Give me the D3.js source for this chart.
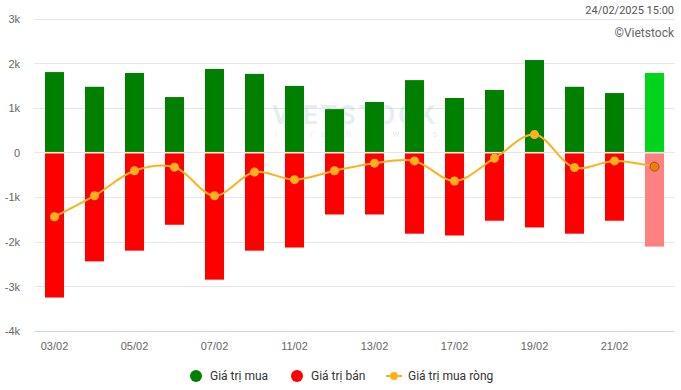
<!DOCTYPE html>
<html><head><meta charset="utf-8">
<script src="https://cdn.jsdelivr.net/npm/d3@7"></script>
<style>
html,body{margin:0;padding:0;background:#fff;}
svg{display:block;font-family:Roboto,"Noto Sans",sans-serif;}
</style></head>
<body><svg id="c" width="681" height="390"></svg>
<script>
const dates = ["03/02","04/02","05/02","06/02","07/02","10/02","11/02","12/02","13/02","14/02","17/02","18/02","19/02","20/02","21/02","24/02"];
const buyValues = [1800,1470,1780,1240,1870,1760,1490,970,1130,1620,1220,1400,2070,1470,1330,1780];
const sellValues = [-3250,-2440,-2200,-1620,-2850,-2200,-2130,-1390,-1390,-1820,-1860,-1530,-1680,-1820,-1530,-2110];
const netValues = [-1440,-970,-410,-330,-970,-440,-610,-410,-240,-190,-640,-130,400,-340,-190,-320];
const yTicks = [-4000,-3000,-2000,-1000,0,1000,2000,3000];
const xTickLabels = ["03/02","05/02","07/02","11/02","13/02","17/02","19/02","21/02"];
const legendLabels = ["Giá trị mua","Giá trị bán","Giá trị mua ròng"];
const timestamp = "24/02/2025 15:00";
const credit = "©Vietstock";

const svg = d3.select("#c");
const L = 34.5, R = 674.5, T = 18.5, B = 331;
const x = d3.scaleBand().domain(dates).range([L, R]).paddingInner(0.525).paddingOuter(0.2625);
const y = d3.scaleLinear().domain([-4000, 3000]).range([B, T]);

// grid
svg.append("g").selectAll("line").data(yTicks.filter(t => t > -4000)).join("line")
  .attr("x1", L).attr("x2", R).attr("y1", d => Math.round(y(d)) + 0.5).attr("y2", d => Math.round(y(d)) + 0.5)
  .attr("stroke", "#e6e6e6").attr("stroke-width", 1);
// y labels
const yAxis = d3.axisLeft(y).tickValues(yTicks).tickSize(0).tickPadding(0)
  .tickFormat(d => d === 0 ? "0" : (d / 1000) + "k");
const yg = svg.append("g").attr("transform", "translate(20,0)").call(yAxis);
yg.select(".domain").remove();
yg.selectAll("text").attr("fill", "#666").attr("font-size", "11px").attr("dy", "0.35em");

// watermark
const wm = svg.append("g").attr("opacity", 0.12);
wm.append("text").attr("x", 355).attr("y", 124).attr("text-anchor", "middle")
  .attr("font-size", "26px").attr("font-weight", "bold").attr("fill", "#3a6fb0").attr("letter-spacing", "3px").text("VIETSTOCK");
wm.append("text").attr("x", 360).attr("y", 137).attr("text-anchor", "middle")
  .attr("font-size", "9px").attr("fill", "#3a6fb0").attr("letter-spacing", "8px").text("refresh always");

const n = dates.length;
// buy bars
svg.append("g").selectAll("rect").data(dates).join("rect")
  .attr("x", d => x(d)).attr("width", x.bandwidth())
  .attr("y", (d, i) => y(buyValues[i])).attr("height", (d, i) => y(0) - y(buyValues[i]) - 0.5)
  .attr("fill", (d, i) => i === n - 1 ? "#00d41d" : "#008000");
// sell bars
svg.append("g").selectAll("rect").data(dates).join("rect")
  .attr("x", d => x(d)).attr("width", x.bandwidth())
  .attr("y", y(0) + 1).attr("height", (d, i) => y(sellValues[i]) - y(0) - 1)
  .attr("fill", (d, i) => i === n - 1 ? "#ff8080" : "#ff0000");

// x axis line
svg.append("line").attr("x1", L).attr("x2", R).attr("y1", B + 0.5).attr("y2", B + 0.5)
  .attr("stroke", "#ccd6eb").attr("stroke-width", 1);
const xAxis = d3.axisBottom(x).tickValues(xTickLabels).tickSize(0).tickPadding(0);
const xg = svg.append("g").attr("transform", `translate(0,${B})`).call(xAxis);
xg.select(".domain").remove();
xg.selectAll("text").attr("fill", "#666").attr("font-size", "11px").attr("dy", "0").attr("y", 19);

// net line
const cx = d => x(d) + x.bandwidth() / 2;
const line = d3.line().x((d, i) => cx(dates[i])).y(d => y(d)).curve(d3.curveCatmullRom.alpha(0.5));
svg.append("path").datum(netValues).attr("d", line).attr("fill", "none")
  .attr("stroke", "#ffb11b").attr("stroke-width", 2);
svg.append("g").selectAll("circle").data(netValues).join("circle")
  .attr("cx", (d, i) => cx(dates[i])).attr("cy", d => y(d))
  .attr("r", (d, i) => i === n - 1 ? 4.5 : 4.5)
  .attr("fill", (d, i) => i === n - 1 ? "#f57c00" : "#ffb11b")
  .attr("stroke", (d, i) => i === n - 1 ? "#8a5a2b" : "none")
  .attr("stroke-width", 1);

// top-right texts
svg.append("text").attr("x", 674).attr("y", 14).attr("text-anchor", "end")
  .attr("font-size", "11px").attr("fill", "#555").text(timestamp);
svg.append("text").attr("x", 674).attr("y", 37).attr("text-anchor", "end")
  .attr("font-size", "12px").attr("fill", "#666").text(credit);

// legend
const lg = svg.append("g");
const lgY = 376;
lg.append("circle").attr("cx", 196).attr("cy", lgY).attr("r", 6).attr("fill", "#008000");
lg.append("text").attr("x", 210).attr("y", lgY + 4).attr("font-size", "12px").attr("fill", "#333").text(legendLabels[0]);
lg.append("circle").attr("cx", 297).attr("cy", lgY).attr("r", 6).attr("fill", "#ff0000");
lg.append("text").attr("x", 311).attr("y", lgY + 4).attr("font-size", "12px").attr("fill", "#333").text(legendLabels[1]);
lg.append("line").attr("x1", 386).attr("x2", 402).attr("y1", lgY).attr("y2", lgY).attr("stroke", "#ffb11b").attr("stroke-width", 2);
lg.append("circle").attr("cx", 394).attr("cy", lgY).attr("r", 4).attr("fill", "#ffb11b");
lg.append("text").attr("x", 408).attr("y", lgY + 4).attr("font-size", "12px").attr("fill", "#333").text(legendLabels[2]);
</script></body></html>
